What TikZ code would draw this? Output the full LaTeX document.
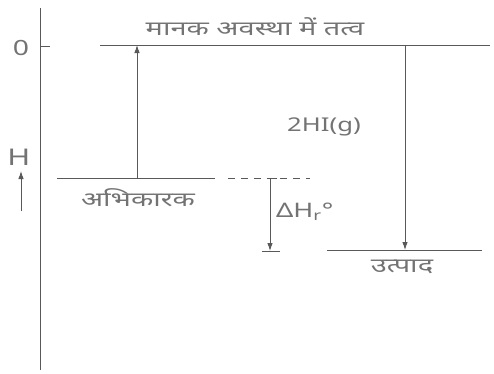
\documentclass[tikz,border=0pt]{standalone}
\usepackage{fontspec}
\setmainfont[FakeStretch=1.35]{Noto Sans}
\newfontfamily\hindi[Script=Devanagari,FakeStretch=1.45]{Noto Sans}
\usetikzlibrary{arrows.meta}

\begin{document}
\begin{tikzpicture}[x=1pt,y=-1pt,
  font=\hindi\fontsize{20}{22}\selectfont,>={Latex[length=8pt,width=5.5pt]},
  lvl/.style={draw=black!65,line width=0.9pt},
  lbl/.style={text=black!55,inner sep=0pt},
  lat/.style={lbl,font=\normalfont\fontsize{20}{22}\selectfont}
]
\useasboundingbox (0,0) rectangle (494,373);
% energy axis
\coordinate (axtop) at (40,8);
\coordinate (axbot) at (40,370);
\coordinate (tick) at (50,46);
\draw[lvl] (axtop) -- (axbot);
\draw[lvl] (axtop |- tick) -- (tick);
\node[lat,font=\normalfont\fontsize{21}{23}\selectfont] (zero) at (21,48) {0};
\node[lat,font=\normalfont\fontsize{23}{25}\selectfont] (hlab) at (19,157) {H};
\coordinate (hbot) at (21,211);
\coordinate (htop) at (21,171);
\draw[lvl,->] (hbot) -- (htop);
% levels
\coordinate (elA) at (100,45);
\coordinate (elB) at (490,45);
\coordinate (reA) at (57,178);
\coordinate (reB) at (215,178);
\coordinate (reC) at (228,178);
\coordinate (reD) at (310,178);
\coordinate (prA) at (327,250);
\coordinate (prB) at (482,250);
\draw[lvl] (elA) -- (elB);
\draw[lvl] (reA) -- (reB);
\draw[lvl,dash pattern=on 7pt off 6pt] (reC) -- (reD);
\draw[lvl] (prA) -- (prB);
% labels
\node[lbl] (elem) at (255,27) {मानक अवस्था में तत्व};
\node[lbl] (react) at (138,198) {अभिकारक};
\node[lbl] (prod) at (402,267) {उत्पाद};
\node[lat,font=\normalfont\fontsize{19}{21}\selectfont] (hi) at (324,127) {2HI(g)};
% transitions
\coordinate (upA) at (137,178);
\coordinate (upB) at (137,45);
\coordinate (dnA) at (405,45);
\coordinate (dnB) at (405,250);
\draw[lvl,->] (upA) -- (upB);
\draw[lvl,->] (dnA) -- (dnB);
% enthalpy of reaction
\coordinate (dhA) at (270,178);
\coordinate (dhB) at (270,251);
\coordinate (dhL) at (262,251);
\coordinate (dhR) at (280,251);
\draw[lvl] (dhA) -- ++(7,0);
\draw[lvl,->] (dhA) -- (dhB);
\draw[lvl] (dhL) -- (dhR);
\node[lat,anchor=west] (dh) at (276,212) {ΔH\textsubscript{r}°};
\end{tikzpicture}
\end{document}
